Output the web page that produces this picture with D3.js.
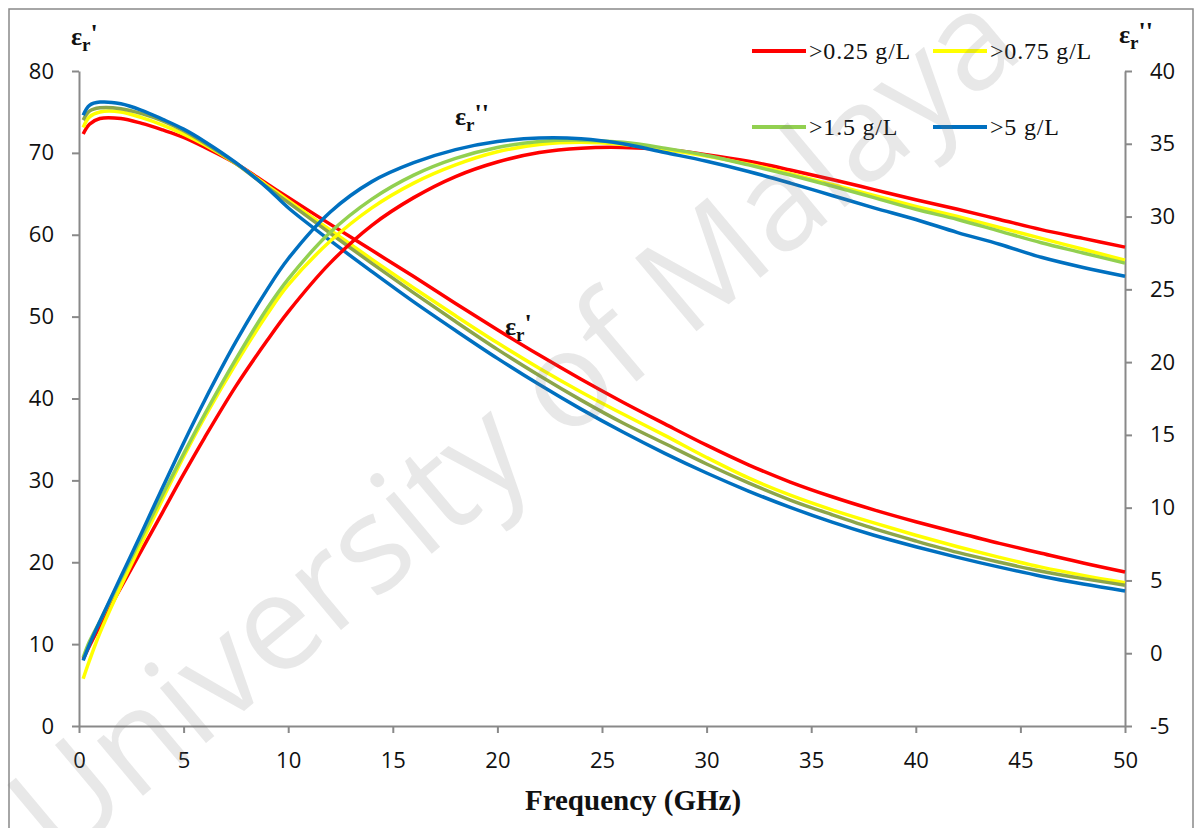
<!DOCTYPE html>
<html>
<head>
<meta charset="utf-8">
<script src="https://cdn.jsdelivr.net/npm/d3@7"></script>
<style>
  body { margin: 0; background: #fff; }
  svg { display: block; }
</style>
</head>
<body>
<div id="chart"></div>
<script>
// frequency points (GHz)
const freq = [0.2, 0.5, 1, 2, 3, 4, 5, 6, 7.5, 9, 10, 12, 14, 16, 18, 20, 22, 24, 26, 28, 30, 32, 34, 36, 38, 40, 42, 44, 46, 48, 50];

const seriesNames = [">0.25 g/L", ">0.75 g/L", ">1.5 g/L", ">5 g/L"];

// real part (left axis)
const epsReal025 = [72.3, 73.5, 74.2, 74.2, 73.6, 72.8, 71.9, 70.7, 68.7, 66.2, 64.55, 61.3, 58.1, 54.9, 51.6, 48.4, 45.3, 42.35, 39.55, 36.9, 34.3, 31.9, 29.8, 28.0, 26.4, 24.95, 23.6, 22.3, 21.1, 19.9, 18.8];
const epsReal075 = [73.1, 74.4, 75.0, 75.0, 74.3, 73.4, 72.3, 71.0, 68.7, 66.0, 64.2, 60.6, 57.0, 53.5, 50.1, 46.8, 43.7, 40.8, 38.1, 35.5, 32.8, 30.3, 28.2, 26.4, 24.8, 23.3, 21.9, 20.6, 19.4, 18.4, 17.5];
const epsReal15  = [74.0, 75.1, 75.5, 75.4, 74.8, 73.9, 72.7, 71.2, 68.7, 65.8, 63.95, 60.2, 56.5, 52.9, 49.4, 46.0, 42.8, 39.8, 37.0, 34.5, 32.0, 29.7, 27.6, 25.8, 24.1, 22.6, 21.2, 20.0, 18.9, 18.0, 17.2];
const epsReal5   = [74.6, 75.8, 76.2, 76.0, 75.2, 74.1, 72.9, 71.4, 68.8, 65.7, 63.3, 59.3, 55.5, 51.8, 48.3, 44.9, 41.7, 38.7, 35.9, 33.3, 30.9, 28.7, 26.7, 24.9, 23.3, 21.9, 20.6, 19.4, 18.3, 17.35, 16.5];

// imaginary part (right axis)
const epsImag025 = [-0.4, 0.5, 1.9, 4.5, 7.1, 9.7, 12.3, 14.8, 18.35, 21.5, 23.45, 26.8, 29.4, 31.3, 32.75, 33.75, 34.4, 34.7, 34.75, 34.6, 34.25, 33.8, 33.2, 32.55, 31.85, 31.15, 30.5, 29.8, 29.1, 28.5, 27.9];
const epsImag075 = [-1.75, -0.5, 1.4, 4.6, 7.6, 10.6, 13.5, 16.2, 19.9, 23.3, 25.3, 28.3, 30.6, 32.3, 33.55, 34.45, 34.95, 35.1, 34.95, 34.6, 34.15, 33.6, 32.95, 32.2, 31.45, 30.7, 30.0, 29.25, 28.5, 27.75, 27.0];
const epsImag15  = [-0.3, 0.8, 2.2, 5.1, 8.0, 10.9, 13.7, 16.4, 20.2, 23.7, 25.7, 28.9, 31.2, 32.85, 34.0, 34.75, 35.15, 35.25, 35.1, 34.7, 34.2, 33.55, 32.85, 32.1, 31.3, 30.5, 29.8, 29.0, 28.2, 27.5, 26.8];
const epsImag5   = [-0.5, 0.6, 2.2, 5.25, 8.3, 11.4, 14.45, 17.35, 21.4, 25.0, 27.1, 30.3, 32.4, 33.7, 34.6, 35.15, 35.4, 35.35, 35.0, 34.4, 33.8, 33.1, 32.3, 31.45, 30.6, 29.8, 28.9, 28.1, 27.2, 26.5, 25.9];

const leftTicks = [0, 10, 20, 30, 40, 50, 60, 70, 80];
const rightTicks = [-5, 0, 5, 10, 15, 20, 25, 30, 35, 40];
const xTicks = [0, 5, 10, 15, 20, 25, 30, 35, 40, 45, 50];

const realSeries = [epsReal025, epsReal075, epsReal15, epsReal5];
const imagSeries = [epsImag025, epsImag075, epsImag15, epsImag5];
const imagColors = ["#ff0000", "#ffff00", "#92d050", "#0070c0"];
const realColors = ["#ff0000", "#ffff00", "#8ca54a", "#0070c0"];

const width = 1200, height = 828;
const axisColor = "#898989";
const tickFont = "'Open Sans', sans-serif";
const serif = "'Liberation Serif', 'Times New Roman', serif";

const svg = d3.select("#chart").append("svg")
    .attr("width", width)
    .attr("height", height);

// chart frame
svg.append("rect")
    .attr("x", 9).attr("y", 9)
    .attr("width", 1184).attr("height", 840)
    .attr("fill", "#fff")
    .attr("stroke", axisColor)
    .attr("stroke-width", 1.5);

const x = d3.scaleLinear().domain([0, 50]).range([79, 1125]);
const yL = d3.scaleLinear().domain([0, 80]).range([726, 71]);
const yR = d3.scaleLinear().domain([-5, 40]).range([726, 71]);

const plainNum = d => String(d);   // keeps "-5" with a hyphen

function styleAxis(g) {
    g.select(".domain").attr("stroke", axisColor).attr("stroke-width", 2);
    g.selectAll(".tick line").attr("stroke", axisColor).attr("stroke-width", 2);
    g.selectAll(".tick text")
        .attr("fill", "#111")
        .style("font-family", tickFont)
        .style("font-size", "22px");
}

svg.append("g")
    .attr("transform", "translate(79,0)")
    .call(d3.axisLeft(yL).tickValues(leftTicks).tickFormat(plainNum).tickSize(7).tickSizeOuter(0).tickPadding(18))
    .call(styleAxis);

svg.append("g")
    .attr("transform", "translate(1125,0)")
    .call(d3.axisRight(yR).tickValues(rightTicks).tickFormat(plainNum).tickSize(7).tickSizeOuter(0).tickPadding(18))
    .call(styleAxis);

svg.append("g")
    .attr("transform", "translate(0,726)")
    .call(d3.axisBottom(x).tickValues(xTicks).tickFormat(plainNum).tickSize(7).tickSizeOuter(0).tickPadding(19))
    .call(styleAxis);

// curves
const plot = svg.append("g");

const lineL = d3.line()
    .x((d, i) => x(freq[i]))
    .y(d => yL(d))
    .curve(d3.curveCatmullRom.alpha(0.5));

const lineR = d3.line()
    .x((d, i) => x(freq[i]))
    .y(d => yR(d))
    .curve(d3.curveCatmullRom.alpha(0.5));

realSeries.forEach((s, k) => {
    plot.append("path")
        .attr("d", lineL(s))
        .attr("fill", "none")
        .attr("stroke", realColors[k])
        .attr("stroke-width", 3.5)
        .attr("stroke-linejoin", "round");
});

imagSeries.forEach((s, k) => {
    plot.append("path")
        .attr("d", lineR(s))
        .attr("fill", "none")
        .attr("stroke", imagColors[k])
        .attr("stroke-width", 3.5)
        .attr("stroke-linejoin", "round");
});

// epsilon labels: ε, subscript r, primes
function epsLabel(px, py, primes) {
    const t = svg.append("text")
        .attr("x", px).attr("y", py)
        .style("font-family", serif)
        .style("font-weight", "bold")
        .style("font-size", "26px")
        .attr("fill", "#111");
    t.append("tspan").text("ε");
    t.append("tspan").attr("dy", 6).style("font-size", "19px").text("r");
    t.append("tspan").attr("dy", -9).text(primes);
}

epsLabel(71, 45, "'");
epsLabel(1119, 43, "''");
epsLabel(455, 125, "''");
epsLabel(505, 335, "'");

// legend (two columns)
const legendPos = [[752, 51], [933, 51], [752, 127], [933, 127]];
seriesNames.forEach((name, k) => {
    const [lx, ly] = legendPos[k];
    svg.append("line")
        .attr("x1", lx).attr("x2", lx + 54)
        .attr("y1", ly).attr("y2", ly)
        .attr("stroke", imagColors[k])
        .attr("stroke-width", 4);
    svg.append("text")
        .attr("x", lx + 57).attr("y", ly + 8)
        .style("font-family", serif)
        .style("font-size", "24px")
        .style("letter-spacing", "0.8px")
        .attr("fill", "#111")
        .text(name);
});

// x axis title
svg.append("text")
    .attr("x", 633).attr("y", 810)
    .attr("text-anchor", "middle")
    .style("font-family", serif)
    .style("font-weight", "bold")
    .style("font-size", "29px")
    .attr("fill", "#111")
    .text("Frequency (GHz)");

// watermark
svg.append("text")
    .attr("transform", "translate(510,420) rotate(-40)")
    .attr("text-anchor", "middle")
    .attr("dominant-baseline", "central")
    .style("font-family", tickFont)
    .style("font-size", "134px")
    .attr("fill", "rgba(120,120,120,0.17)")
    .text("University of Malaya");
</script>
</body>
</html>
